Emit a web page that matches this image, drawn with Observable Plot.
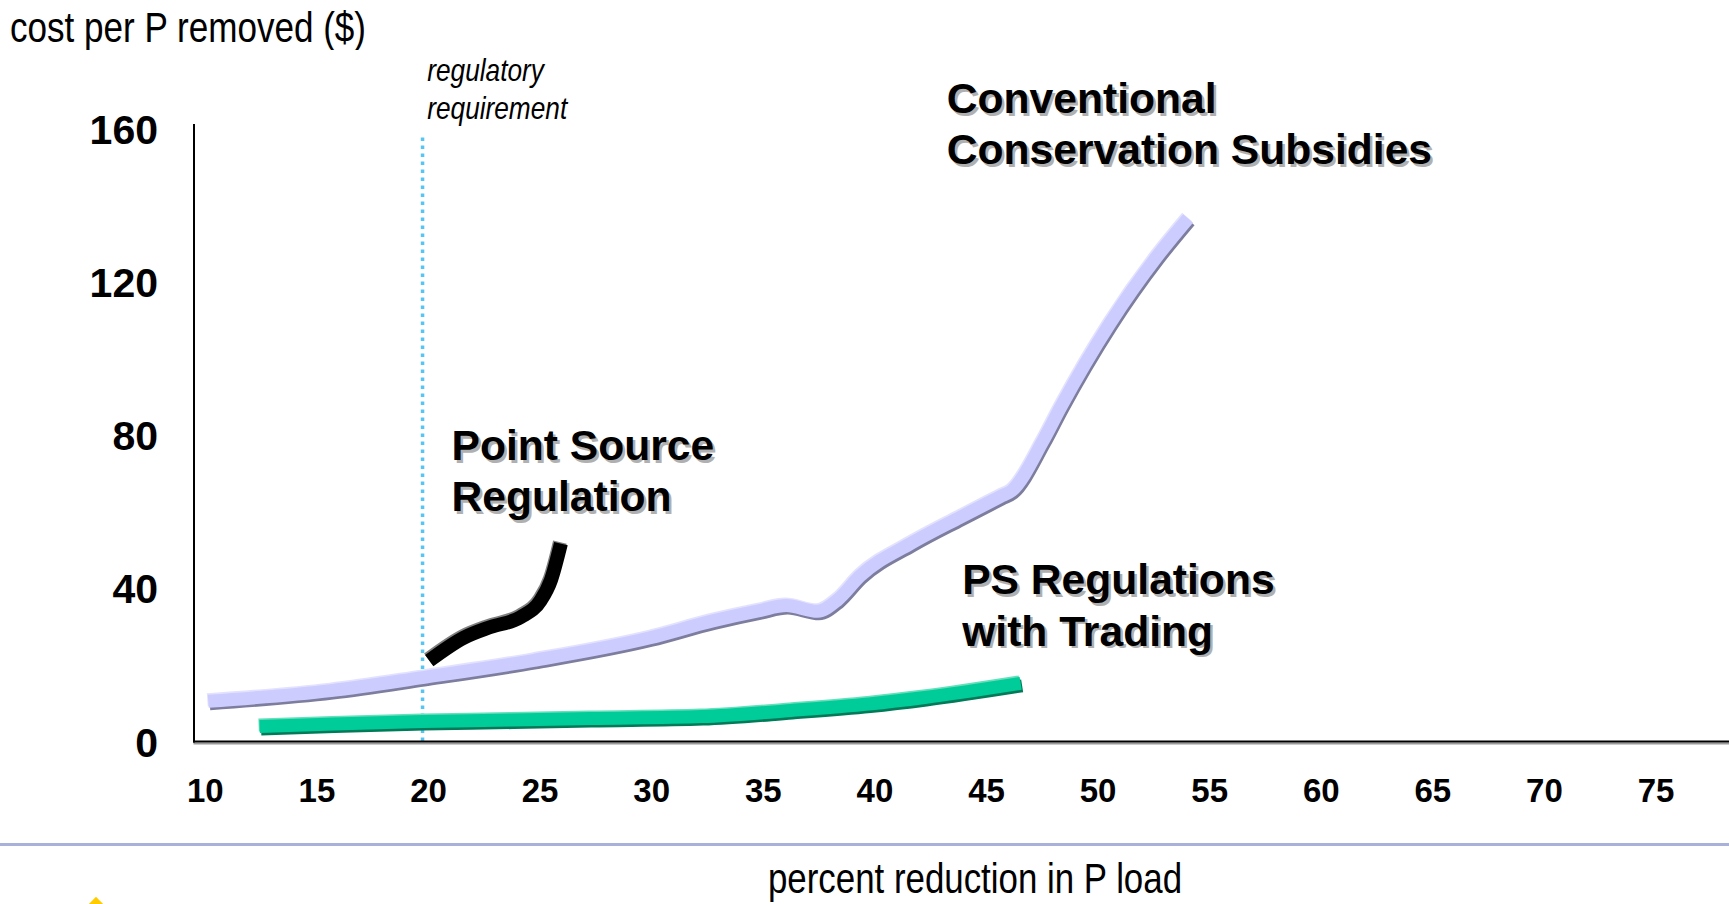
<!DOCTYPE html>
<html>
<head>
<meta charset="utf-8">
<script src="https://cdn.jsdelivr.net/npm/d3@7"></script>
<script src="https://cdn.jsdelivr.net/npm/@observablehq/plot@0.6"></script>
<style>
  html, body { margin: 0; padding: 0; background: #fff; }
  #page { position: relative; width: 1729px; height: 904px; overflow: hidden; background: #fff; }
  .narrow { font-family: "Liberation Sans", Arial, sans-serif; }
  #title { position: absolute; left: 10px; top: 6px; font-size: 42px; line-height: 44px; color: #000; white-space: nowrap; transform: scaleX(0.835); transform-origin: 0 50%; }
  #chart { position: absolute; left: 0; top: 50px; }
  #sep { position: absolute; left: 0; top: 843px; width: 1729px; height: 3px; background: #a9b0da; }
  #xlabel { position: absolute; left: 975px; top: 858px; transform: translateX(-50%) scaleX(0.83); transform-origin: 50% 50%; font-size: 42px; line-height: 42px; color: #000; white-space: nowrap; }
  #logo { position: absolute; left: 86px; top: 901px; width: 20px; height: 20px; background: #ffcc00; transform: rotate(45deg); }
</style>
</head>
<body>
<div id="page">
  <div id="title" class="narrow">cost per P removed ($)</div>
  <div id="chart"></div>
  <div id="sep"></div>
  <div id="xlabel" class="narrow">percent reduction in P load</div>
  <div id="logo"></div>
</div>
<script>
// ---- data ----
const xTicks = [10, 15, 20, 25, 30, 35, 40, 45, 50, 55, 60, 65, 70, 75];
const yTicks = [0, 40, 80, 120, 160];

// Conventional Conservation Subsidies
const convX = [10.4, 15.9, 20, 25, 30.2, 33, 35.1, 36.3, 37.7, 38.6, 39.6, 41.9, 44.1, 45.9, 46.4, 47.8, 48.6, 50.8, 52.9, 54.3];
const convY = [10.5, 13.3, 16.7, 21.2, 27.1, 31.5, 34.2, 35.5, 34.0, 37.0, 43.2, 51.8, 58.6, 64.0, 65.5, 78.5, 87.4, 109.2, 126.6, 136.6];

// Point Source Regulation
const psX = [20.3, 21.85, 23.05, 24.4, 25.3, 25.75, 26.2];
const psY = [21.1, 27.1, 29.9, 32.5, 36.9, 42.1, 51.7];

// PS Regulations with Trading
const trX = [12.7, 16, 20, 24, 27.5, 32.5, 36.5, 40, 42.5, 46.8];
const trY = [3.9, 4.6, 5.2, 5.6, 6.0, 6.5, 8.1, 9.8, 11.5, 15.2];

// regulatory requirement
const regX = [20];
const regTop = 158.6;

// annotation labels (anchored in data units)
const labelText = ["Conventional\nConservation Subsidies", "Point Source\nRegulation", "PS Regulations\nwith Trading"];
const labelX = [43.49, 21.3, 44.18];
const labelY = [161.7, 71.1, 36.0];
const regText = ["regulatory\nrequirement"];
const regTextX = [20.21];
const regTextY = [170.8];

// ---- build tables ----
const zip = (xs, ys) => xs.map((x, i) => ({x, y: ys[i]}));
const conv = zip(convX, convY);
const ps = zip(psX, psY);
const tr = zip(trX, trY);
const labels = labelText.map((t, i) => ({x: labelX[i], y: labelY[i], text: t}));
const regLabels = regText.map((t, i) => ({x: regTextX[i], y: regTextY[i], text: t}));

const sans = '"Liberation Sans", Arial, Helvetica, sans-serif';

function line3d(data, main, light, dark, w) {
  const base = {x: "x", y: "y", curve: "monotone-x", strokeLinecap: "butt", strokeLinejoin: "round"};
  const out = [];
  if (dark) out.push(Plot.line(data, {...base, stroke: dark, strokeWidth: w, dx: 1.5, dy: 2.5}));
  out.push(Plot.line(data, {...base, stroke: light, strokeWidth: w, dx: -1, dy: -1.5}));
  out.push(Plot.line(data, {...base, stroke: main, strokeWidth: w}));
  return out;
}

const chart = Plot.plot({
  width: 1729,
  height: 780,
  marginTop: 74.6,
  marginLeft: 193.5,
  marginRight: 0,
  marginBottom: 89,
  style: {fontFamily: sans, background: "white", overflow: "visible", color: "#000"},
  x: {domain: [9.76, 78.56], label: null},
  y: {domain: [0, 161], label: null},
  marks: [
    Plot.ruleX(regX, {y1: 0, y2: regTop, stroke: "#55c5f5", strokeWidth: 3.5, strokeDasharray: "3.5,4.5"}),
    Plot.ruleY([0], {stroke: "#9a9a9a", strokeWidth: 2, dy: 2}),
    Plot.frame({anchor: "left", stroke: "#000", strokeWidth: 2}),
    Plot.frame({anchor: "bottom", stroke: "#000", strokeWidth: 2}),
    Plot.axisX(xTicks, {tickSize: 0, tickPadding: 37, fontSize: 33, fontWeight: "bold", dx: 6, label: null, fontFamily: sans}),
    Plot.axisY(yTicks, {tickSize: 0, tickPadding: 36, fontSize: 41, fontWeight: "bold", dy: 2, label: null, fontFamily: sans}),
    ...line3d(tr, "#00cc99", "#66dfbb", "#007a58", 13),
    ...line3d(conv, "#ccccff", "#e2e2ff", "#7d7d9e", 13),
    ...line3d(ps, "#000000", "#808080", null, 14),
    Plot.text(labels, {x: "x", y: "y", text: "text", textAnchor: "start", lineAnchor: "middle", fontSize: 42.6, fontWeight: "bold", lineHeight: 1.2, fontFamily: sans, fill: "#b0b0b0", dx: 2.5, dy: 2.5}),
    Plot.text(labels, {x: "x", y: "y", text: "text", textAnchor: "start", lineAnchor: "middle", fontSize: 42.6, fontWeight: "bold", lineHeight: 1.2, fontFamily: sans, fill: "#000"}),
    Plot.text(regLabels, {x: "x", y: "y", text: "text", textAnchor: "start", lineAnchor: "middle", fontSize: 32, fontStyle: "italic", lineHeight: 1.2, fontFamily: sans, fill: "#000"})
  ]
});
// condense the italic annotation (the last text mark) like the narrow face of the reference
{
  const groups = chart.querySelectorAll('g[aria-label="text"]');
  const g = groups[groups.length - 1];
  if (g) g.querySelectorAll(':scope > text').forEach(t => {
    const x = +(t.getAttribute("x") || 0), y = +(t.getAttribute("y") || 0);
    const tr0 = t.getAttribute("transform") || "";
    t.setAttribute("transform", `${tr0} translate(${x},${y}) scale(0.82,1) translate(${-x},${-y})`);
  });
}
document.getElementById("chart").appendChild(chart);
</script>
</body>
</html>
